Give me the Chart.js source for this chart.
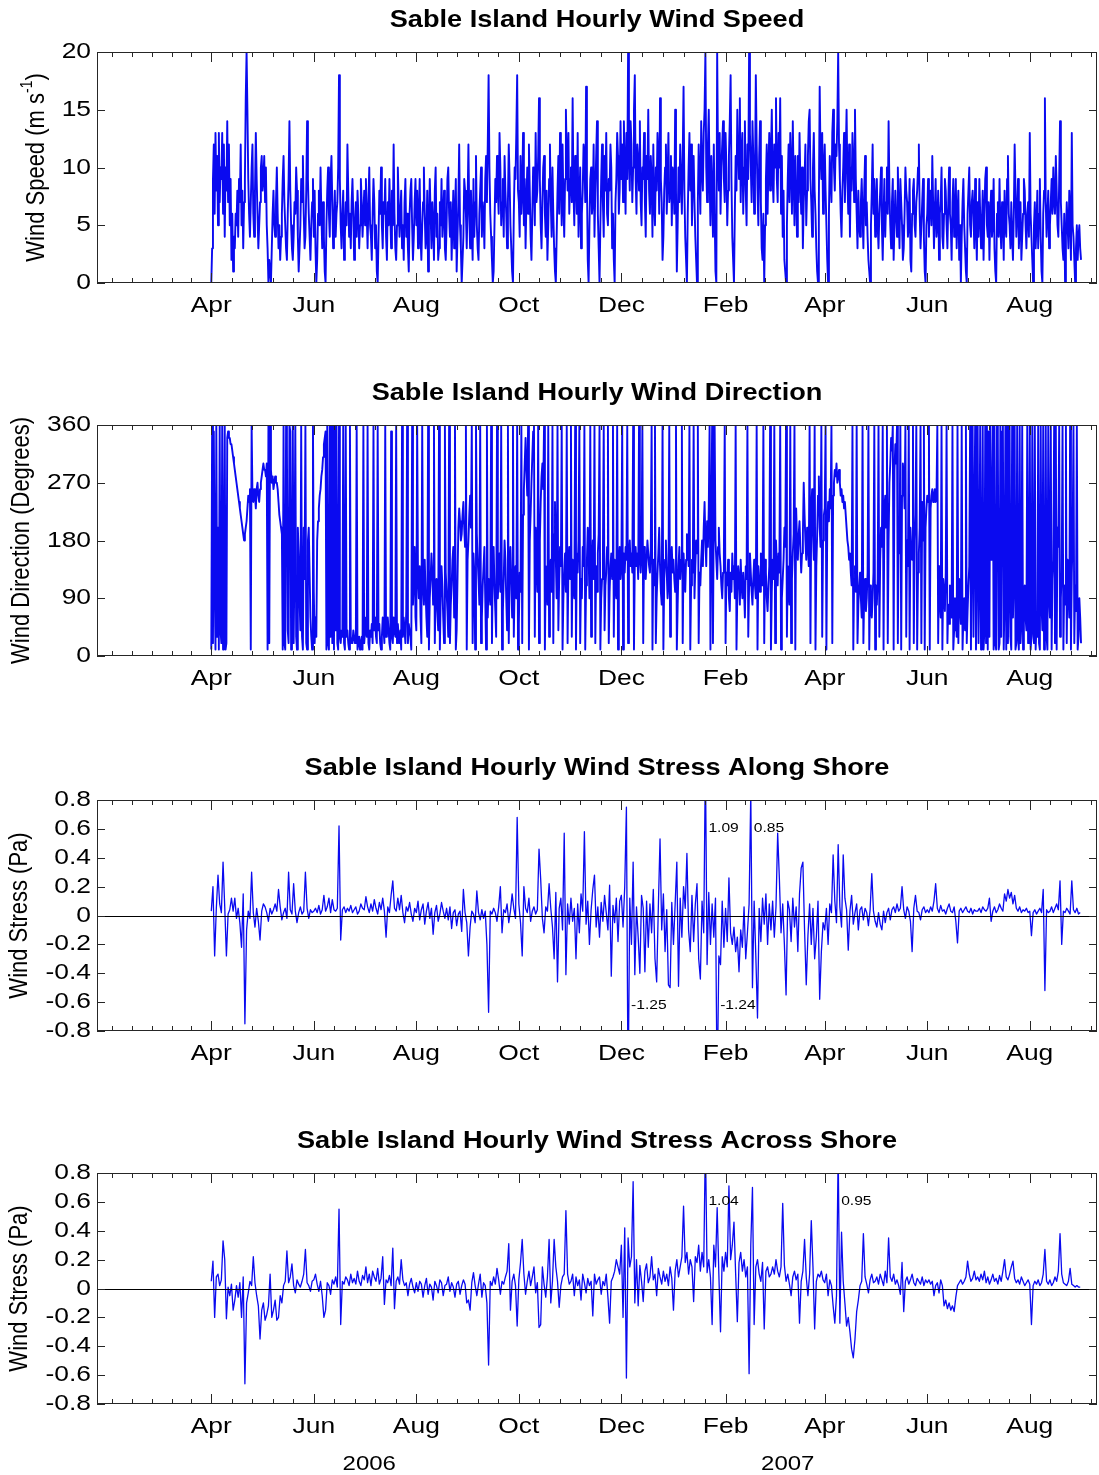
<!DOCTYPE html>
<html>
<head>
<meta charset="utf-8">
<title>Sable Island Hourly Wind</title>
<script src="https://cdn.jsdelivr.net/npm/chart.js@4.4.0/dist/chart.umd.min.js"></script>
<style>
  html, body { margin: 0; padding: 0; background: #fff; }
  canvas { display: block; }
</style>
</head>
<body>
<canvas id="speedChart" width="1099" height="373"></canvas>
<canvas id="dirChart" width="1099" height="375"></canvas>
<canvas id="alongChart" width="1099" height="373"></canvas>
<canvas id="acrossChart" width="1099" height="354"></canvas>
<script>
// time axis: days from 1 Apr 2006; speed/direction sampled every 12 h, stresses daily
const axisStart = "2006-01-23";
const axisEnd = "2007-09-10";
const monthTickDates = ["2006-04-01", "2006-06-01", "2006-08-01", "2006-10-01", "2006-12-01",
                        "2007-02-01", "2007-04-01", "2007-06-01", "2007-08-01"];
const monthLabels = ["Apr", "Jun", "Aug", "Oct", "Dec", "Feb", "Apr", "Jun", "Aug"];
const minorBounds = ["2006-02-01", "2007-10-01"];
const yearLabels = ["2006", "2007"];
const yearLabelDates = ["2006-07-04", "2007-03-10"];

const speedTicks = [0, 5, 10, 15, 20];
const dirTicks = [0, 90, 180, 270, 360];
const stressTicks = [-0.8, -0.6, -0.4, -0.2, 0, 0.2, 0.4, 0.6, 0.8];

// wind speed, m/s, 12-hourly
const windSpeed = [
  // Apr 2006
  0,3, 9,12, 6,13, 8,11, 5,13, 7,10, 9,13, 6,12, 4,10, 8,14,
  7,12, 5,9, 2,6, 1,4, 3,6, 5,8, 4,9, 7,12, 5,8, 3,7,
  9,16, 20,15, 9,6, 4,7, 10,12, 6,4, 8,13, 9,6, 3,5, 7,10,
  // May
  11,8, 9,11, 7,10, 5,3, 0,2, 1,0, 3,6, 8,5, 4,7, 10,6,
  3,5, 2,4, 6,9, 11,7, 5,3, 2,6, 9,14, 8,5, 3,2, 4,7,
  6,10, 8,4, 1,3, 5,9, 7,11, 6,3, 4,8, 14,9, 6,4, 2,5,
  7,9,
  // Jun
  4,8, 3,0, 2,6, 8,5, 10,6, 3,7, 4,1, 0,5, 8,10, 6,4,
  9,11, 7,3, 5,8, 4,6, 7,10, 18,9, 5,3, 6,8, 2,4, 7,5,
  12,8, 4,6, 3,7, 9,6, 2,5, 7,4, 8,6, 3,5, 9,7, 4,6,
  // Jul
  8,5, 9,6, 3,7, 10,5, 4,2, 6,9, 7,3, 5,1, 0,4, 8,6,
  10,5, 3,7, 6,9, 4,2, 7,5, 9,6, 3,8, 5,12, 6,3, 2,5,
  10,7, 4,6, 8,3, 5,2, 7,9, 4,6, 3,1, 6,8, 9,5, 2,4,
  7,9,
  // Aug
  5,8, 3,6, 9,4, 2,5, 7,10, 6,3, 4,8, 1,5, 9,6, 3,7,
  5,2, 8,10, 4,6, 2,3, 7,5, 9,4, 6,8, 3,2, 5,9, 10,6,
  4,7, 2,5, 8,3, 6,9, 1,4, 7,12, 5,3, 0,2, 4,9, 8,6,
  3,7,
  // Sep
  12,6, 3,8, 5,2, 9,4, 7,11, 5,3, 2,6, 8,10, 4,7, 6,3,
  9,11, 7,12, 18,10, 6,4, 2,0, 1,5, 9,7, 11,8, 6,13, 10,5,
  7,9, 4,11, 8,6, 3,7, 12,9, 5,3, 1,0, 6,10, 9,13, 18,8,
  // Oct
  7,4, 11,6, 8,13, 5,9, 3,7, 10,6, 12,8, 4,2, 6,10, 9,5,
  13,7, 8,11, 16,9, 5,3, 7,10, 11,6, 4,8, 2,5, 9,12, 7,4,
  10,6, 3,1, 0,4, 8,11, 6,13, 9,5, 12,7, 4,9, 15,11, 8,13,
  6,9,
  // Nov
  10,7, 16,8, 5,11, 9,6, 13,4, 7,10, 3,6, 8,12, 11,7, 17,9,
  2,0, 5,9, 10,6, 7,12, 4,8, 11,14, 6,3, 0,5, 9,12, 7,4,
  11,8, 13,6, 5,9, 8,12, 10,3, 6,2, 0,7, 9,13, 11,6, 8,14,
  // Dec
  9,12, 7,14, 10,6, 13,9, 20,11, 8,14, 12,7, 10,15, 18,9, 6,12,
  11,8, 14,7, 5,10, 9,13, 7,4, 11,9, 15,8, 6,11, 9,4, 12,7,
  5,10, 8,13, 11,6, 16,9, 7,2, 4,8, 10,12, 6,9, 13,7, 8,11,
  5,10,
  // Jan 2007
  9,6, 15,8, 1,5, 10,7, 12,9, 6,11, 17,8, 4,2, 0,6, 10,13,
  8,12, 5,9, 11,7, 4,2, 0,7, 12,9, 6,14, 10,8, 13,15, 20,10,
  7,12, 15,9, 5,11, 8,4, 12,6, 1,0, 20,11, 8,13, 6,10, 12,14,
  9,7,
  // Feb
  13,10, 5,8, 11,14, 18,9, 4,2, 0,6, 11,8, 15,12, 9,16, 7,11,
  13,6, 10,14, 8,5, 12,9, 20,13, 10,7, 14,11, 6,9, 18,12, 8,5,
  11,14, 7,3, 2,6, 0,5, 9,12, 6,10, 13,8, 11,15,
  // Mar
  9,7, 12,10, 16,9, 7,13, 10,16, 6,11, 4,8, 2,1, 0,5, 9,12,
  7,13, 10,6, 14,9, 5,11, 8,4, 11,7, 13,9, 6,10, 3,7, 9,12,
  5,8, 11,14, 15,9, 7,4, 10,13, 8,6, 3,1, 0,7, 17,11, 9,13,
  6,10,
  // Apr
  12,8, 5,2, 0,6, 11,9, 7,13, 15,10, 8,12, 11,14, 20,12, 9,6,
  4,8, 10,13, 7,11, 15,9, 6,12, 4,10, 8,13, 11,7, 15,9, 6,3,
  8,5, 4,7, 9,6, 3,8, 11,5, 7,4, 2,1, 0,5, 8,12, 6,9,
  // May
  4,7, 9,5, 3,6, 8,10, 5,2, 6,9, 4,7, 10,6, 14,8, 5,3,
  7,9, 2,5, 8,6, 4,10, 6,3, 9,7, 5,2, 3,6, 10,8, 7,4,
  5,9, 2,1, 6,8, 9,5, 4,7, 8,10, 12,6, 3,5, 7,9, 4,1,
  0,5,
  // Jun
  6,9, 4,7, 8,5, 11,7, 3,6, 9,4, 5,8, 2,6, 7,10, 4,3,
  6,9, 8,5, 3,7, 10,6, 5,2, 7,9, 4,6, 9,3, 6,8, 2,5,
  0,4, 7,9, 5,3, 1,0, 6,8, 10,5, 4,7, 8,6, 3,9, 5,2,
  // Jul
  7,4, 9,6, 3,5, 8,2, 6,9, 10,5, 4,7, 2,6, 8,4, 5,9,
  3,1, 0,6, 7,4, 9,5, 3,7, 6,2, 8,5, 4,9, 11,6, 5,3,
  7,4, 2,6, 12,8, 4,6, 9,3, 5,7, 2,4, 6,9, 8,5, 3,6,
  7,4,
  // Aug
  13,6, 4,2, 0,5, 7,3, 5,8, 3,6, 9,4, 1,0, 6,8, 16,7,
  4,6, 8,3, 5,7, 9,6, 10,7, 6,11, 8,5, 4,9, 14,7, 5,3,
  2,6, 0,4, 7,5, 3,8, 6,2, 13,5, 4,2, 0,3, 5,2, 4,5,
  3,2
];

// wind direction, degrees from north, 12-hourly
const windDir = [
  // Apr 2006
  10,360, 20,350, 120,10, 360,30, 200,10, 360,40, 20,360, 10,120, 360,10, 20,340,
  350,340, 340,330, 330,320, 310,300, 290,280, 270,260, 250,240, 230,220, 210,200, 190,180,
  190,200, 210,230, 250,240, 260,10, 360,250, 240,260, 250,230, 260,270, 250,240, 260,270,
  // May
  280,290, 300,290, 290,280, 300,10, 360,20, 360,290, 270,280, 260,270, 280,270, 270,260,
  240,220, 210,200, 190,10, 360,20, 10,360, 330,40, 20,360, 350,10, 80,360, 20,140,
  360,30, 10,200, 160,90, 40,360, 30,10, 200,120, 360,20, 10,180, 200,130, 60,30,
  10,360,
  // Jun
  100,20, 60,30, 180,210, 230,250, 260,280, 290,310, 330,340, 350,10, 360,20, 10,360,
  30,360, 20,360, 10,360, 40,360, 20,10, 360,30, 20,40, 30,360, 20,10, 360,30,
  40,20, 10,360, 30,20, 20,40, 30,20, 20,360, 10,20, 30,10, 20,30, 10,360,
  // Jul
  20,40, 60,30, 360,20, 10,40, 30,50, 20,360, 40,60, 30,20, 360,40, 50,20,
  10,30, 60,40, 20,360, 30,50, 60,40, 20,10, 350,30, 20,60, 40,30, 360,20,
  50,30, 20,40, 10,360, 30,60, 40,20, 70,360, 20,50, 40,30, 10,360, 80,120,
  170,60,
  // Aug
  40,360, 120,90, 140,60, 20,360, 110,80, 150,100, 60,30, 360,10, 90,120, 160,130,
  80,360, 20,100, 120,70, 40,360, 10,90, 140,110, 60,20, 360,130, 100,70, 30,360,
  20,80, 110,150, 170,60, 360,10, 40,120, 200,230, 210,180, 190,220, 240,200, 170,360,
  10,150,
  // Sep
  180,220, 250,200, 360,20, 160,130, 10,360, 190,150, 120,80, 360,20, 60,110, 140,170,
  90,10, 360,60, 120,100, 80,360, 20,140, 170,110, 70,30, 360,90, 130,160, 100,360,
  10,70, 120,180, 150,90, 40,360, 20,130, 170,120, 60,360, 30,110, 140,90, 360,10,
  // Oct
  50,130, 100,360, 20,220, 260,300, 340,290, 250,360, 10,180, 220,270, 310,350, 360,30,
  200,150, 100,360, 20,180, 240,280, 300,260, 360,10, 140,110, 80,360, 30,130, 150,100,
  360,20, 190,240, 150,90, 360,40, 120,170, 140,360, 10,90, 130,160, 100,360, 20,140,
  170,120,
  // Nov
  360,30, 150,110, 90,360, 10,160, 130,180, 360,20, 120,90, 170,140, 360,10, 110,150,
  200,160, 90,360, 30,130, 180,120, 360,20, 140,100, 160,190, 360,10, 90,120, 150,360,
  40,110, 130,170, 360,20, 100,140, 160,120, 360,30, 150,110, 90,360, 10,140, 170,120,
  // Dec
  140,360, 10,160, 130,170, 150,360, 20,150, 180,140, 160,130, 360,10, 150,170, 140,160,
  120,360, 150,130, 160,360, 20,170, 140,120, 150,180, 160,140, 130,170, 360,10, 150,110,
  360,20, 90,130, 160,200, 140,100, 80,360, 10,120, 150,180, 130,90, 110,360, 30,140,
  170,130,
  // Jan 2007
  150,120, 100,360, 10,80, 140,170, 120,150, 360,20, 160,130, 100,150, 190,170, 140,360,
  10,110, 150,130, 360,90, 140,180, 160,360, 20,130, 110,150, 180,140, 200,240, 180,140,
  210,170, 230,360, 10,200, 360,20, 240,360, 180,150, 120,170, 200,160, 140,110, 90,130,
  160,360,
  // Feb
  20,130, 110,150, 90,70, 130,100, 160,120, 140,90, 360,10, 100,140, 120,80, 150,110,
  90,130, 100,60, 140,120, 360,30, 110,160, 130,100, 80,120, 150,110, 90,360, 10,140,
  120,100, 160,130, 110,360, 20,150, 130,90, 70,110, 140,360, 10,100,
  // Mar
  150,120, 360,20, 180,140, 110,160, 130,360, 10,90, 120,150, 200,170, 360,30, 140,100,
  80,360, 20,120, 160,190, 360,10, 230,180, 150,190, 210,170, 130,160, 190,270, 220,180,
  150,200, 170,140, 360,20, 230,260, 190,150, 360,10, 140,190, 250,280, 200,170, 360,30,
  180,220,
  // Apr
  230,360, 10,200, 240,210, 260,230, 360,20, 250,270, 290,280, 300,270, 280,290, 270,250,
  260,240, 250,230, 240,220, 200,180, 170,150, 160,130, 110,360, 10,120, 140,100, 360,20,
  80,110, 130,90, 60,360, 20,100, 120,70, 90,130, 360,10, 110,80, 60,90, 130,360,
  // May
  10,110, 80,120, 360,30, 150,200, 170,360, 10,230, 250,200, 360,20, 180,270, 300,340,
  320,360, 10,290, 330,300, 360,20, 200,160, 360,10, 250,300, 280,230, 360,30, 180,140,
  360,10, 200,170, 150,360, 20,180, 220,360, 10,130, 160,200, 360,20, 240,180, 360,10,
  200,230,
  // Jun
  250,240, 360,10, 230,250, 260,240, 250,260, 240,250, 360,20, 140,90, 60,360, 10,120,
  100,70, 130,360, 20,80, 50,110, 90,60, 360,10, 40,90, 70,30, 360,20, 120,80,
  50,360, 10,60, 90,40, 360,20, 70,110, 140,360, 10,180, 360,30, 200,360, 10,150,
  // Jul
  360,20, 120,360, 10,80, 360,10, 40,360, 20,360, 10,350, 30,360, 150,200, 360,10,
  360,20, 10,360, 340,10, 20,360, 30,350, 360,10, 90,360, 10,360, 20,100, 360,30,
  10,360, 60,120, 360,10, 20,360, 30,10, 360,20, 50,360, 10,80, 110,60, 40,360,
  20,70,
  // Aug
  360,10, 30,360, 40,20, 360,10, 50,30, 360,20, 10,360, 80,40, 360,10, 20,360,
  30,10, 360,90, 60,360, 10,120, 150,360, 20,360, 10,200, 170,360, 30,90, 130,360,
  10,110, 80,360, 20,150, 100,60, 360,10, 130,180, 360,20, 110,70, 360,10, 30,90,
  60,20
];

// along-shore wind stress, Pa, daily
const stressAlong = [
  // Apr 2006
  0.03, 0.2, -0.28, 0.05, 0.28, 0.08, 0.02, 0.37, 0.06, -0.28,
  0.01, 0.04, 0.12, 0.03, 0.12, -0.02, 0.05, -0.05, -0.22, 0.15,
  -0.75, -0.1, 0.03, -0.02, 0.3, 0.02, -0.08, 0.05, -0.04, -0.17,
  // May
  0.03, 0.08, 0.06, 0.02, -0.04, 0.05, 0.01, 0.04, 0.08, 0.03,
  0.18, 0.06, -0.03, 0.02, 0.05, -0.02, 0.3, 0.04, 0.01, 0.22,
  0.03, -0.05, 0.02, 0.06, 0.01, 0.03, 0.3, 0.05, -0.02, 0.04, 0.02,
  // Jun
  0.03, 0.05, 0.02, 0.07, 0.01, 0.04, 0.14, 0.03, 0.06, 0.12,
  0.02, 0.11, 0.04, 0.03, 0.05, 0.62, -0.17, 0.04, 0.06, 0.02,
  0.05, 0.03, 0.07, 0.02, 0.04, 0.06, 0.01, 0.03, 0.08, 0.05,
  // Jul
  0.04, 0.13, 0.06, 0.02, 0.08, 0.03, 0.11, 0.05, 0.01, 0.09,
  0.04, 0.12, 0.03, -0.15, 0.06, 0.02, 0.14, 0.24, 0.05, 0.03,
  0.12, 0.04, 0.14, 0.02, -0.05, 0.06, 0.03, 0.09, 0.01, -0.04, 0.05,
  // Aug
  0.02, 0.1, -0.03, 0.04, 0.08, -0.06, 0.03, 0.09, -0.02, 0.05,
  -0.13, 0.02, 0.07, -0.04, 0.01, 0.09, 0.03, -0.02, 0.05, -0.03,
  0.06, -0.09, 0.02, 0.04, -0.07, 0.01, 0.03, -0.11, 0.18, 0.02, -0.05,
  // Sep
  -0.28, -0.08, 0.03, 0.01, -0.05, 0.17, 0.02, -0.03, 0.04, -0.02,
  0.03, -0.2, -0.67, 0.03, 0.01, 0.05, 0.02, -0.04, 0.06, 0.2,
  -0.12, 0.04, 0.02, 0.08, -0.05, 0.03, 0.15, 0.05, -0.02, 0.68,
  // Oct
  0.08, -0.05, -0.28, 0.2, 0.05, 0.02, 0.12, -0.04, 0.03, 0.06,
  0.01, 0.04, 0.46, 0.25, -0.02, -0.12, 0.06, 0.03, 0.22, 0.05,
  -0.08, -0.3, 0.16, -0.46, 0.05, 0.12, -0.1, 0.57, -0.41, 0.08, -0.06,
  // Nov
  0.12, -0.04, 0.05, -0.3, 0.08, -0.12, 0.15, 0.03, 0.58, -0.06,
  0.1, -0.2, 0.04, 0.18, 0.28, -0.08, 0.06, -0.15, 0.09, -0.04,
  0.14, 0.02, -0.1, 0.21, -0.42, 0.07, -0.05, 0.12, -0.18, 0.1,
  // Dec
  0.14, -0.08, 0.2, 0.75, -1.25, 0.12, -0.2, 0.37, -0.41, 0.06,
  -0.15, -0.4, 0.14, 0.05, -0.39, 0.1, -0.22, 0.08, -0.12, 0.18,
  -0.3, -0.46, 0.06, 0.53, -0.1, 0.15, -0.25, 0.04, -0.48, -0.5, 0.09,
  // Jan 2007
  -0.2, 0.08, 0.37, -0.49, 0.12, -0.15, 0.2, 0.05, 0.43, -0.1,
  -0.25, 0.14, -0.18, 0.08, 0.22, -0.3, -0.44, 0.1, -0.12, 1.09,
  -0.34, 0.16, -0.2, 0.08, -0.15, 0.12, -1.24, -0.28, -0.34, 0.1, -0.22,
  // Feb
  0.05, -0.18, 0.26, -0.12, -0.2, -0.08, -0.25, -0.15, -0.39, -0.1,
  -0.22, 0.06, -0.3, -0.12, 0.08, 0.85, -0.5, 0.1, -0.28, -0.71,
  0.05, -0.18, 0.12, -0.06, 0.15, -0.2, 0.08, -0.1,
  // Mar
  0.1, -0.15, 0.06, 0.57, 0.26, -0.12, 0.08, -0.2, -0.55, 0.1,
  0.04, -0.18, 0.12, -0.08, 0.06, -0.25, 0.15, 0.33, 0.37, -0.1,
  -0.48, -0.14, 0.08, -0.2, 0.05, -0.3, -0.15, 0.1, -0.58, -0.25, -0.05,
  // Apr
  -0.1, 0.05, -0.2, 0.08, 0.02, 0.42, 0.1, -0.05, 0.49, 0.06,
  -0.08, 0.42, 0.12, 0.04, -0.24, 0.03, 0.14, -0.06, 0.02, 0.08,
  -0.1, 0.04, 0.06, -0.03, 0.05, 0.02, -0.07, 0.04, 0.29, 0.03,
  // May
  -0.04, -0.08, 0.02, -0.06, -0.1, 0.03, -0.05, 0.02, 0.05, -0.03,
  0.04, 0.06, 0.02, 0.08, 0.03, 0.05, 0.2, 0.04, -0.02, 0.06,
  0.03, -0.04, -0.25, 0.05, 0.14, 0.03, 0.02, -0.03, 0.04, 0.06, 0.02,
  // Jun
  0.04, 0.02, 0.06, 0.03, 0.1, 0.22, 0.05, 0.02, 0.07, 0.03,
  0.04, 0.01, 0.05, 0.08, 0.03, 0.02, 0.06, -0.04, -0.19, 0.03,
  0.05, 0.02, 0.04, 0.06, 0.03, 0.02, 0.05, 0.01, 0.04, 0.03,
  // Jul
  0.03, 0.05, 0.02, 0.06, 0.04, 0.03, 0.05, 0.12, -0.04, 0.03,
  0.06, 0.02, 0.04, 0.08, 0.05, 0.03, 0.15, 0.1, 0.18, 0.12,
  0.16, 0.08, 0.14, 0.05, 0.03, 0.06, 0.02, 0.04, 0.03, 0.05, 0.02,
  // Aug
  0.03, -0.14, 0.02, 0.04, 0.01, 0.03, 0.05, 0.02, 0.18, -0.52,
  0.04, 0.02, 0.03, 0.06, 0.02, 0.05, 0.08, 0.04, 0.24, -0.2,
  0.03, 0.02, 0.05, 0.03, 0.01, 0.24, 0.04, 0.02, 0.05, 0.01, 0.02
];

// across-shore wind stress, Pa, daily
const stressAcross = [
  // Apr 2006
  0.05, 0.19, -0.2, 0.08, 0.1, 0.02, 0.06, 0.33, 0.2, -0.21,
  0.01, -0.05, 0.03, -0.15, -0.08, 0.02, -0.06, 0.04, -0.2, 0.08,
  -0.66, -0.1, -0.03, 0.05, 0.02, 0.22, 0.04, -0.05, -0.12, -0.35,
  // May
  -0.15, -0.1, -0.22, -0.18, -0.12, 0.1, -0.2, -0.15, -0.08, -0.22,
  -0.2, -0.05, -0.1, 0.02, 0.05, 0.26, 0.04, 0.08, 0.17, 0.02,
  -0.03, 0.06, 0.03, 0.01, 0.05, 0.1, 0.27, 0.04, 0.02, -0.02, 0.05,
  // Jun
  0.06, 0.1, 0.03, -0.02, 0.05, -0.05, -0.2, -0.15, 0.04, 0.02,
  -0.04, 0.06, 0.03, 0.08, 0.01, 0.55, -0.25, 0.05, 0.03, 0.08,
  0.06, 0.02, 0.1, 0.04, 0.07, 0.03, 0.12, 0.05, 0.02, 0.09,
  // Jul
  0.06, 0.15, 0.04, 0.1, 0.02, 0.12, 0.08, 0.05, 0.14, 0.03,
  0.07, 0.22, -0.11, 0.06, 0.04, 0.09, 0.02, 0.28, -0.14, 0.05,
  0.08, 0.03, 0.2, 0.06, 0.02, 0.04, -0.05, 0.03, 0.07, 0.01, -0.03,
  // Aug
  0.04, -0.02, 0.05, 0.03, -0.06, 0.02, 0.07, -0.04, 0.03, 0.01,
  -0.08, 0.05, 0.02, -0.03, 0.06, 0.04, -0.05, 0.02, 0.03, 0.08,
  -0.02, 0.04, 0.01, -0.06, 0.03, 0.05, -0.04, 0.02, 0.06, 0.03, -0.1,
  // Sep
  -0.08, -0.15, 0.04, 0.11, 0.02, -0.05, 0.03, 0.1, -0.06, 0.04,
  0.02, -0.1, -0.53, 0.05, 0.02, 0.08, 0.03, 0.14, 0.06, -0.04,
  0.05, 0.03, 0.08, 0.12, 0.31, -0.15, 0.05, 0.1, 0.02, -0.26,
  // Oct
  0.06, 0.18, 0.34, 0.1, -0.04, 0.05, 0.12, 0.02, 0.08, 0.15,
  -0.03, 0.04, -0.27, -0.25, 0.15, 0.03, -0.06, 0.08, 0.34, -0.1,
  0.05, 0.34, 0.15, 0.05, -0.13, 0.02, 0.08, 0.1, 0.54, 0.1, 0.03,
  // Nov
  0.05, 0.1, -0.05, 0.08, 0.02, 0.06, -0.08, 0.1, 0.04, -0.03,
  0.07, 0.02, 0.05, -0.19, 0.1, 0.03, 0.06, 0.08, -0.04, 0.05,
  0.02, 0.1, -0.06, -0.24, 0.05, 0.08, 0.12, 0.2, 0.15, 0.1,
  // Dec
  0.3, -0.2, 0.42, -0.62, 0.35, 0.15, 0.22, 0.74, -0.1, 0.2,
  -0.12, 0.16, 0.05, -0.09, 0.12, 0.17, 0.04, 0.08, 0.22, 0.06,
  0.1, -0.05, 0.14, 0.08, 0.03, 0.12, 0.05, 0.1, 0.02, 0.15, 0.07,
  // Jan 2007
  -0.15, 0.12, 0.2, 0.08, 0.15, 0.22, 0.57, 0.18, 0.25, 0.1,
  0.2, 0.15, -0.09, 0.22, 0.18, 0.3, 0.12, 0.25, 0.15, 1.04,
  0.11, 0.2, 0.08, -0.25, 0.3, 0.15, 0.56, 0.1, -0.3, 0.22, 0.12,
  // Feb
  0.25, 0.15, 0.71, 0.2, 0.3, 0.46, 0.1, -0.23, 0.18, 0.25,
  0.12, 0.2, 0.08, 0.15, -0.59, 0.3, 0.7, -0.25, 0.15, 0.2,
  0.1, 0.05, 0.18, -0.28, 0.12, 0.15, 0.08, 0.1,
  // Mar
  0.15, 0.1, 0.2, 0.12, 0.08, 0.15, 0.59, 0.16, 0.05, 0.1,
  0.03, -0.05, 0.08, 0.12, 0.06, 0.1, -0.24, 0.05, 0.12, 0.34,
  0.08, -0.05, 0.1, 0.47, 0.15, -0.28, 0.05, 0.1, 0.08, 0.12, 0.06,
  // Apr
  0.04, 0.1, -0.05, 0.06, 0.02, -0.12, -0.24, -0.05, 0.95, -0.24,
  0.39, 0.05, -0.1, -0.26, -0.2, -0.3, -0.42, -0.48, -0.35, -0.16,
  -0.08, 0.02, 0.05, 0.38, 0.08, 0.03, -0.03, 0.06, 0.1, 0.04,
  // May
  0.05, 0.08, 0.03, 0.1, 0.06, 0.02, 0.12, 0.04, 0.35, 0.08,
  0.05, 0.1, 0.03, 0.06, 0.02, -0.04, 0.18, -0.16, 0.05, 0.08,
  0.03, 0.06, 0.1, 0.04, 0.02, 0.07, 0.05, 0.03, 0.08, 0.02, 0.06,
  // Jun
  0.04, 0.06, 0.03, 0.05, -0.05, 0.02, 0.04, -0.03, 0.06, 0.02,
  -0.12, -0.08, -0.14, -0.1, -0.15, -0.12, -0.16, -0.06, 0.02, 0.04,
  0.06, 0.03, 0.05, 0.08, 0.19, 0.1, 0.05, 0.07, 0.12, 0.06,
  // Jul
  0.08, 0.05, 0.1, 0.06, 0.12, 0.04, 0.08, 0.03, 0.06, 0.1,
  0.05, 0.07, 0.03, 0.09, 0.05, 0.12, 0.2, 0.08, 0.06, 0.1,
  0.15, 0.19, 0.07, 0.04, 0.06, 0.03, 0.08, 0.05, 0.02, 0.04, 0.06,
  // Aug
  0.03, -0.25, 0.02, 0.05, 0.03, 0.06, 0.02, 0.04, 0.1, 0.27,
  0.05, 0.03, 0.06, 0.02, 0.04, 0.08, 0.05, 0.12, 0.38, 0.1,
  0.04, 0.03, 0.02, 0.05, 0.14, 0.03, 0.02, 0.01, 0.02, 0.01, 0.01
];

const FONT = '"Liberation Sans", Arial, Helvetica, sans-serif';
const TEXT_WIDEN = 1.2;      // lettering is set wide, as in the printed figure
const LINE_BLUE = '#0a0af0';
const AXIS_INK = '#262626';

const DAY_MS = 864e5;
const ORIGIN = Date.UTC(2006, 3, 1);
const dayOf = s => (Date.parse(s + 'T00:00:00Z') - ORIGIN) / DAY_MS;

const xMin = dayOf(axisStart);
const xMax = dayOf(axisEnd);
const majorDays = monthTickDates.map(dayOf);

// five minor steps between labelled months, running out to both frame edges
const minorDays = [];
const bounds = [dayOf(minorBounds[0]), ...majorDays, dayOf(minorBounds[1])];
for (let i = 0; i < bounds.length - 1; i++) {
  const step = (bounds[i + 1] - bounds[i]) / 5;
  for (let k = 0; k < 5; k++) {
    const d = bounds[i] + k * step;
    if (!majorDays.includes(d)) minorDays.push(d);
  }
}

const panels = {
  speedChart: {
    title: 'Sable Island Hourly Wind Speed',
    side: [{ text: 'Wind Speed (m s' }, { text: '-1', sup: true }, { text: ')' }],
    sideX: 37, ticks: speedTicks, lineWidth: 1.9
  },
  dirChart: {
    title: 'Sable Island Hourly Wind Direction',
    side: [{ text: 'Wind Direction (Degrees)' }],
    sideX: 22, ticks: dirTicks, lineWidth: 1.9
  },
  alongChart: {
    title: 'Sable Island Hourly Wind Stress Along Shore',
    side: [{ text: 'Wind Stress (Pa)' }],
    sideX: 20, ticks: stressTicks, zeroLine: true, flagClipped: true, lineWidth: 1.3
  },
  acrossChart: {
    title: 'Sable Island Hourly Wind Stress Across Shore',
    side: [{ text: 'Wind Stress (Pa)' }],
    sideX: 20, ticks: stressTicks, zeroLine: true, flagClipped: true, years: true, lineWidth: 1.3
  }
};

function wideText(ctx, str, x, y, font, align, widen) {
  ctx.save();
  ctx.translate(x, y);
  ctx.scale(widen || TEXT_WIDEN, 1);
  ctx.font = font;
  ctx.textAlign = align;
  ctx.textBaseline = 'middle';
  ctx.fillStyle = '#000';
  ctx.fillText(str, 0, 0);
  ctx.restore();
}

// rotated axis title, with optional superscript pieces
function sideTitle(ctx, parts, x, y, size) {
  ctx.save();
  ctx.translate(x, y);
  ctx.scale(TEXT_WIDEN, 1);
  ctx.rotate(-Math.PI / 2);
  ctx.fillStyle = '#000';
  ctx.textBaseline = 'middle';
  ctx.textAlign = 'left';
  const fontFor = p => (p.sup ? Math.round(size * 0.62) : size) + 'px ' + FONT;
  const widths = parts.map(p => { ctx.font = fontFor(p); return ctx.measureText(p.text).width; });
  let pos = -widths.reduce((s, w) => s + w, 0) / 2;
  parts.forEach((p, i) => {
    ctx.font = fontFor(p);
    ctx.fillText(p.text, pos, p.sup ? -size * 0.38 : 0);
    pos += widths[i];
  });
  ctx.restore();
}

const panelPlugin = {
  id: 'panel',
  afterDatasetsDraw(chart) {
    const cfg = panels[chart.canvas.id];
    const { ctx, chartArea: a } = chart;
    const xs = chart.scales.x, ys = chart.scales.y;

    ctx.save();
    ctx.lineWidth = 1;
    if (cfg.zeroLine) {
      const y0 = Math.round(ys.getPixelForValue(0)) + 0.5;
      ctx.strokeStyle = '#000';
      ctx.beginPath();
      ctx.moveTo(a.left, y0);
      ctx.lineTo(a.right, y0);
      ctx.stroke();
    }

    // frame and inward ticks on all four sides
    ctx.strokeStyle = AXIS_INK;
    ctx.strokeRect(a.left + 0.5, a.top + 0.5, a.right - a.left - 1, a.bottom - a.top - 1);
    ctx.beginPath();
    const xTick = (d, len) => {
      if (d < xMin || d > xMax) return;
      const px = Math.round(xs.getPixelForValue(d)) + 0.5;
      ctx.moveTo(px, a.bottom);
      ctx.lineTo(px, a.bottom - len);
      ctx.moveTo(px, a.top);
      ctx.lineTo(px, a.top + len);
    };
    minorDays.forEach(d => xTick(d, 5));
    majorDays.forEach(d => xTick(d, 10));
    cfg.ticks.forEach(v => {
      const py = Math.round(ys.getPixelForValue(v)) + 0.5;
      ctx.moveTo(a.left, py);
      ctx.lineTo(a.left + 8, py);
      ctx.moveTo(a.right, py);
      ctx.lineTo(a.right - 8, py);
    });
    ctx.stroke();
    ctx.restore();

    // lettering
    const mid = (a.left + a.right) / 2;
    wideText(ctx, cfg.title, mid, 21, 'bold 23px ' + FONT, 'center', 1.18);
    cfg.ticks.forEach(v => {
      wideText(ctx, String(v), a.left - 6, ys.getPixelForValue(v), '22px ' + FONT, 'right');
    });
    majorDays.forEach((d, i) => {
      wideText(ctx, monthLabels[i], xs.getPixelForValue(d), a.bottom + 23, '22px ' + FONT, 'center');
    });
    sideTitle(ctx, cfg.side, cfg.sideX, (a.top + a.bottom) / 2, 22);

    // values beyond the axis limits are written beside their spikes
    if (cfg.flagClipped) {
      const lo = cfg.ticks[0], hi = cfg.ticks[cfg.ticks.length - 1];
      chart.data.datasets[0].data.forEach(p => {
        if (p.y > hi) {
          wideText(ctx, p.y.toFixed(2), xs.getPixelForValue(p.x) + 3, a.top + 28, '13px ' + FONT, 'left');
        } else if (p.y < lo) {
          wideText(ctx, p.y.toFixed(2), xs.getPixelForValue(p.x) + 3, a.bottom - 26, '13px ' + FONT, 'left');
        }
      });
    }

    if (cfg.years) {
      yearLabels.forEach((t, i) => {
        wideText(ctx, t, xs.getPixelForValue(dayOf(yearLabelDates[i])), a.bottom + 60, '20px ' + FONT, 'center');
      });
    }
  }
};

const toPoints = (values, step) => values.map((v, i) => ({ x: i * step, y: v }));

function makePanel(id, values, step) {
  const cfg = panels[id];
  const canvas = document.getElementById(id);
  return new Chart(canvas, {
    type: 'line',
    data: {
      datasets: [{
        data: toPoints(values, step),
        borderColor: LINE_BLUE,
        borderWidth: cfg.lineWidth,
        borderJoinStyle: 'round',
        pointRadius: 0,
        tension: 0,
        fill: false
      }]
    },
    options: {
      responsive: false,
      animation: false,
      events: [],
      layout: { padding: { top: 52, left: 97, right: 2, bottom: canvas.height - 283 } },
      plugins: { legend: { display: false }, tooltip: { enabled: false } },
      scales: {
        x: { type: 'linear', display: false, min: xMin, max: xMax },
        y: { type: 'linear', display: false, min: cfg.ticks[0], max: cfg.ticks[cfg.ticks.length - 1] }
      }
    },
    plugins: [panelPlugin]
  });
}

makePanel('speedChart', windSpeed, 0.5);
makePanel('dirChart', windDir, 0.5);
makePanel('alongChart', stressAlong, 1);
makePanel('acrossChart', stressAcross, 1);
</script>
</body>
</html>
